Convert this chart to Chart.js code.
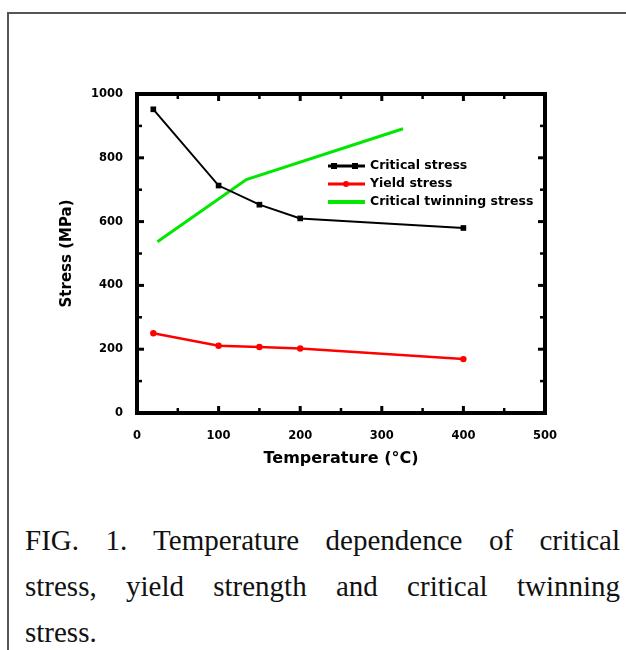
<!DOCTYPE html>
<html>
<head>
<meta charset="utf-8">
<script src="https://cdn.jsdelivr.net/npm/chart.js@4.4.1/dist/chart.umd.min.js"></script>
<style>
  html, body { margin: 0; padding: 0; background: #fff; }
  body { width: 626px; height: 650px; position: relative; overflow: hidden; }
  #frame { position: absolute; left: 7px; top: 12px; width: 700px; height: 700px;
           border-left: 2px solid #555; border-top: 2px solid #555; }
  #chart { position: absolute; left: 0; top: 0; }
  #caption { position: absolute; left: 25px; top: 517px; width: 595px;
             font-family: "Liberation Serif", "Times New Roman", serif; font-size: 29px;
             line-height: 46px; color: #111; }
  #caption .j { text-align: justify; text-align-last: justify; }
</style>
</head>
<body>
<div id="frame"></div>
<canvas id="chart" width="626" height="480"></canvas>
<div id="caption">
  <div class="j">FIG. 1. Temperature dependence of critical</div>
  <div class="j">stress, yield strength and critical twinning</div>
  <div>stress.</div>
</div>
<script>
// values
const temps = [20, 100, 150, 200, 400];
const criticalStress = [952, 713, 653, 610, 580];
const yieldStress = [250, 211, 207, 202, 169];
const twinTemps = [25, 134, 326];
const twinStress = [537, 732, 891];

const seriesNames = ['Critical stress', 'Yield stress', 'Critical twinning stress'];
const xTicks = [0, 100, 200, 300, 400, 500];
const yTicks = [0, 200, 400, 600, 800, 1000];

const toPoints = (xs, ys) => xs.map((x, i) => ({ x: x, y: ys[i] }));

// thick box with inward ticks on all four sides
const boxPlugin = {
    id: 'box',
    afterDatasetsDraw(chart) {
        const { ctx, chartArea: a, scales } = chart;
        ctx.save();
        ctx.strokeStyle = '#000';
        ctx.lineCap = 'butt';
        const tick = (x1, y1, x2, y2, w) => {
            ctx.lineWidth = w;
            ctx.beginPath(); ctx.moveTo(x1, y1); ctx.lineTo(x2, y2); ctx.stroke();
        };
        xTicks.forEach((v, i) => {
            const px = scales.x.getPixelForValue(v);
            tick(px, a.bottom, px, a.bottom - 7, 3);
            tick(px, a.top, px, a.top + 7, 3);
            if (i < xTicks.length - 1) {
                const m = scales.x.getPixelForValue((v + xTicks[i + 1]) / 2);
                tick(m, a.bottom, m, a.bottom - 5, 2.5);
                tick(m, a.top, m, a.top + 5, 2.5);
            }
        });
        yTicks.forEach((v, i) => {
            const py = scales.y.getPixelForValue(v);
            tick(a.left, py, a.left + 7, py, 3);
            tick(a.right, py, a.right - 7, py, 3);
            if (i < yTicks.length - 1) {
                const m = scales.y.getPixelForValue((v + yTicks[i + 1]) / 2);
                tick(a.left, m, a.left + 5, m, 2.5);
                tick(a.right, m, a.right - 5, m, 2.5);
            }
        });
        ctx.lineWidth = 4;
        ctx.strokeRect(a.left, a.top, a.right - a.left, a.bottom - a.top);
        ctx.restore();
    }
};

// legend drawn inside the plot
const legendPlugin = {
    id: 'insideLegend',
    afterDraw(chart) {
        const ctx = chart.ctx;
        const x0 = 328, x1 = 365, y0 = 166, row = 18;
        ctx.save();
        chart.data.datasets.forEach((ds, i) => {
            const y = y0 + i * row;
            ctx.strokeStyle = ds.borderColor;
            ctx.fillStyle = ds.borderColor;
            ctx.lineWidth = i === 2 ? 4 : 3;
            ctx.beginPath(); ctx.moveTo(x0, y); ctx.lineTo(x1, y); ctx.stroke();
            if (i === 0) {
                ctx.fillRect(334 - 3, y - 3, 6, 6);
                ctx.fillRect(355 - 3, y - 3, 6, 6);
            } else if (i === 1) {
                ctx.beginPath(); ctx.arc(346, y, 3, 0, Math.PI * 2); ctx.fill();
            }
            ctx.fillStyle = '#000';
            ctx.font = 'bold 12.5px "DejaVu Sans"';
            ctx.textBaseline = 'middle';
            ctx.textAlign = 'left';
            ctx.fillText(ds.label, 370, y);
        });
        ctx.restore();
    }
};

const tickFont = { family: '"DejaVu Sans"', size: 11.5, weight: 'bold' };

new Chart(document.getElementById('chart'), {
    type: 'line',
    data: {
        datasets: [{
            label: seriesNames[0],
            data: toPoints(temps, criticalStress),
            borderColor: '#000',
            backgroundColor: '#000',
            borderWidth: 2,
            pointStyle: 'rect',
            pointRadius: 4,
            pointBorderWidth: 0
        }, {
            label: seriesNames[1],
            data: toPoints(temps, yieldStress),
            borderColor: '#ff0000',
            backgroundColor: '#ff0000',
            borderWidth: 2.5,
            pointStyle: 'circle',
            pointRadius: 3.2,
            pointBorderWidth: 0
        }, {
            label: seriesNames[2],
            data: toPoints(twinTemps, twinStress),
            borderColor: '#00e800',
            borderWidth: 3,
            pointRadius: 0
        }]
    },
    options: {
        responsive: false,
        animation: false,
        layout: { padding: { top: 94, right: 81, left: 0, bottom: 0 } },
        plugins: { legend: { display: false }, tooltip: { enabled: false } },
        scales: {
            x: {
                type: 'linear',
                min: 0, max: 500,
                afterFit: s => { s.height = 67; },
                afterBuildTicks: s => { s.ticks = xTicks.map(v => ({ value: v })); },
                grid: { display: false },
                border: { display: false },
                ticks: { color: '#000', font: tickFont, padding: 8, maxRotation: 0,
                         callback: v => String(v) },
                title: {
                    display: true, text: 'Temperature (°C)', color: '#000',
                    font: { family: '"DejaVu Sans"', size: 16, weight: 'bold' },
                    padding: { top: 0, bottom: 12 }
                }
            },
            y: {
                min: 0, max: 1000,
                afterFit: s => { s.width = 137; },
                afterBuildTicks: s => { s.ticks = yTicks.map(v => ({ value: v })); },
                grid: { display: false },
                border: { display: false },
                ticks: { color: '#000', font: tickFont, padding: 6,
                         callback: v => String(v) },
                title: {
                    display: true, text: 'Stress (MPa)', color: '#000',
                    font: { family: '"DejaVu Sans"', size: 15, weight: 'bold' },
                    padding: { top: 58, bottom: 0 }
                }
            }
        }
    },
    plugins: [boxPlugin, legendPlugin]
});
</script>
</body>
</html>
